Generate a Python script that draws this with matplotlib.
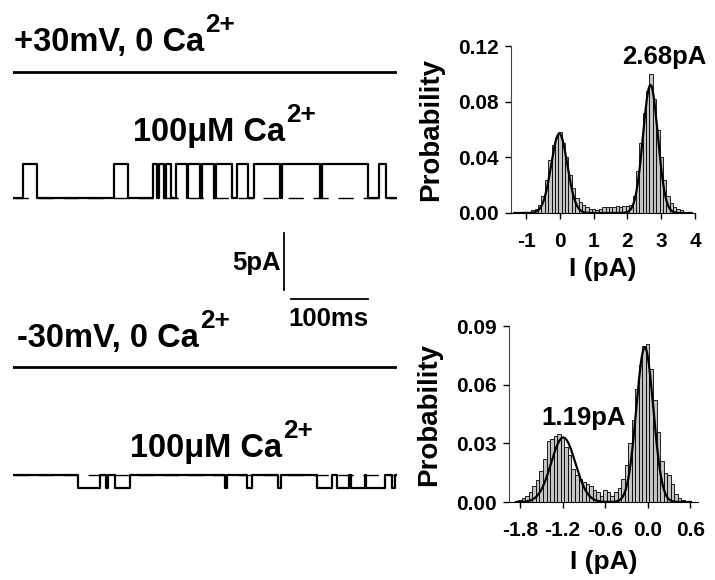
import matplotlib
matplotlib.use("Agg")
import matplotlib.pyplot as plt
import numpy as np

plt.rcParams['font.family'] = ['Liberation Sans', 'DejaVu Sans']
plt.rcParams['font.weight'] = 'bold'
plt.rcParams['axes.unicode_minus'] = False

# single channel records, times in ms, currents in pA
trace_len = 500
pos_amp = 3.0
pos_open = [(13, 31), (131, 150), (182, 188), (190, 197), (199, 206),
            (212, 226), (228, 244), (246, 262), (264, 285), (292, 306),
            (314, 348), (350, 400), (402, 462), (477, 486)]
neg_amp = -1.1
neg_open = [(85, 113), (121, 124), (133, 152), (276, 279), (305, 311),
            (345, 349), (396, 415), (422, 438), (440, 458), (460, 484),
            (494, 498)]

# all-points histograms
hist1_x = np.round(np.arange(-1.0, 3.75, 0.1), 2)
hist1_p = [0.001, 0.001, 0.002, 0.003, 0.006, 0.012, 0.024, 0.038, 0.049, 0.054,
           0.058, 0.050, 0.040, 0.027, 0.018, 0.011, 0.008, 0.006, 0.004, 0.003,
           0.003, 0.002, 0.003, 0.004, 0.004, 0.004, 0.004, 0.005, 0.004, 0.005,
           0.005, 0.006, 0.012, 0.030, 0.050, 0.072, 0.088, 0.100, 0.082, 0.060,
           0.040, 0.024, 0.012, 0.007, 0.004, 0.003, 0.002, 0.001]
fit1 = [(0.057, -0.02, 0.24), (0.092, 2.68, 0.22)]  # amp, mean, sd

hist2_x = np.round(np.arange(-1.80, 0.52, 0.05), 2)
hist2_p = [0.001, 0.002, 0.003, 0.005, 0.008, 0.011, 0.016, 0.022, 0.031, 0.032,
           0.034, 0.035, 0.033, 0.028, 0.024, 0.017, 0.014, 0.012, 0.010, 0.009,
           0.008, 0.006, 0.005, 0.003, 0.006, 0.005, 0.003, 0.005, 0.007, 0.012,
           0.019, 0.030, 0.042, 0.058, 0.070, 0.080, 0.081, 0.068, 0.052, 0.036,
           0.021, 0.015, 0.014, 0.009, 0.004, 0.002, 0.001]
fit2 = [(0.033, -1.19, 0.17), (0.079, -0.04, 0.12)]

W, H = 715, 580
fig = plt.figure(figsize=(W / 100, H / 100), dpi=100)
renderer = fig.canvas.get_renderer()


def px_text(x, y, s, size, **kw):
    return fig.text(x / W, 1 - y / H, s, fontsize=size, fontweight='bold', **kw)


def ion_label(x, y, s, size=23.5):
    # main text plus a raised "2+"
    t = px_text(x, y, s, size)
    bb = t.get_window_extent(renderer=renderer)
    px_text(bb.x1 + 1, y - 19, '2+', size * 0.8)


def step_trace(opens, amp, total):
    xs, ys = [0], [0]
    for t0, t1 in opens:
        xs += [t0, t0, t1, t1]
        ys += [0, amp, amp, 0]
    xs.append(total)
    ys.append(0)
    return np.array(xs), np.array(ys)


# traces axes: x in ms, y in pA (5 pA = 57 px)
ppa = 57 / 5.0
ax = fig.add_axes([13 / W, 0, 384 / W, 1])
ax.set_xlim(0, trace_len)
ax.set_ylim(0, H / ppa)
ax.axis('off')

off1 = (H - 72) / ppa
off2 = (H - 198) / ppa
off3 = (H - 367) / ppa
off4 = (H - 475) / ppa

ax.plot([0, trace_len], [off1, off1], color='k', lw=2.0)
ax.plot([0, trace_len], [off3, off3], color='k', lw=2.0)

x, y = step_trace(pos_open, pos_amp, trace_len)
ax.plot([0, trace_len], [off2, off2], color='k', lw=1, ls=(0, (11, 7)))
ax.plot(x, y + off2, color='k', lw=1.6)

x, y = step_trace(neg_open, neg_amp, trace_len)
ax.plot([0, trace_len], [off4, off4], color='k', lw=1, ls=(0, (11, 7)))
ax.plot(x, y + off4, color='k', lw=1.6)

# scale bars
sb_y = (H - 299) / ppa
ax.plot([353, 353], [(H - 290) / ppa, (H - 290) / ppa + 5], color='k', lw=1.3)
ax.plot([362, 462], [sb_y, sb_y], color='k', lw=1.3)
px_text(232, 270, '5pA', 18.5)
px_text(288, 326, '100ms', 18.5)

ion_label(14, 51, '+30mV, 0 Ca')
ion_label(133, 141, '100μM Ca')
ion_label(17, 347, '-30mV, 0 Ca')
ion_label(130, 457, '100μM Ca')


def hist_panel(rect, xs, ps, width, fits, xlim, ylim, xticks, yticks, xfmt, xlpad):
    h = fig.add_axes(rect)
    h.bar(xs, ps, width=width, color='#c4c4c4', edgecolor='k', linewidth=0.6)
    xx = np.linspace(xlim[0] + 0.1, xlim[1] - 0.1, 400)
    yy = sum(a * np.exp(-0.5 * ((xx - m) / s) ** 2) for a, m, s in fits)
    h.plot(xx, yy, color='k', lw=1.6)
    h.set_xlim(*xlim)
    h.set_ylim(*ylim)
    h.set_xticks(xticks)
    h.set_xticklabels([xfmt % t for t in xticks])
    h.set_yticks(yticks)
    h.set_yticklabels(['%.2f' % t for t in yticks])
    for s in ['top', 'right']:
        h.spines[s].set_visible(False)
    h.spines['left'].set_color('#444444')
    h.tick_params(direction='out', length=4, width=1, labelsize=15)
    h.tick_params(axis='x', pad=10)
    h.tick_params(axis='y', pad=5)
    for lab in h.get_xticklabels() + h.get_yticklabels():
        lab.set_fontweight('bold')
    h.set_ylabel('Probability', fontsize=20, fontweight='bold', labelpad=10)
    h.set_xlabel('I (pA)', fontsize=19, fontweight='bold', labelpad=xlpad)
    return h


h1 = hist_panel([511 / W, (H - 213) / H, 184 / W, 167 / H], hist1_x, hist1_p, 0.1,
                fit1, (-1.45, 4.0), (0, 0.12), [-1, 0, 1, 2, 3, 4],
                [0, 0.04, 0.08, 0.12], '%d', 4)
h2 = hist_panel([509 / W, (H - 502) / H, 189 / W, 176 / H], hist2_x, hist2_p, 0.05,
                fit2, (-1.955, 0.71), (0, 0.09), [-1.8, -1.2, -0.6, 0.0, 0.6],
                [0, 0.03, 0.06, 0.09], '%.1f', 7)

px_text(622, 64, '2.68pA', 18.5)
px_text(541, 425, '1.19pA', 18.5)

fig.savefig('out.png', dpi=100)
